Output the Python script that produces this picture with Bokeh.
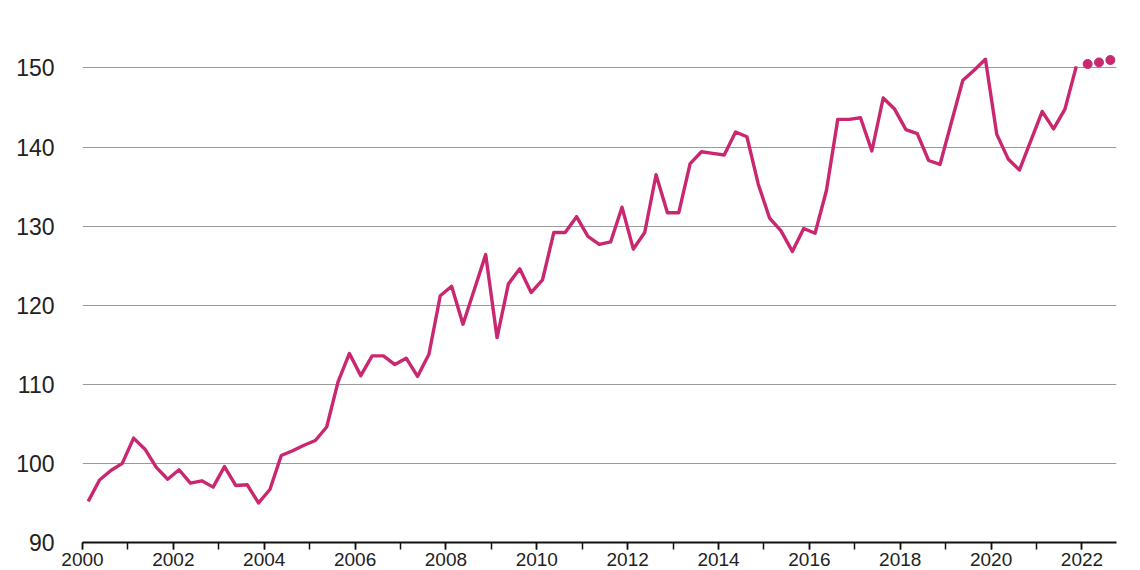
from bokeh.plotting import figure
from bokeh.models import Range1d, FixedTicker
from bokeh.embed import file_html
from bokeh.resources import INLINE

# Quarterly index values 2000Q1 .. 2021Q4
years = list(range(2000, 2022))
values = [
    95.2, 97.9, 99.1, 100.0,
    103.2, 101.8, 99.5, 98.0,
    99.2, 97.5, 97.8, 97.0,
    99.6, 97.2, 97.3, 95.0,
    96.7, 101.0, 101.6, 102.3,
    102.9, 104.6, 110.3, 113.9,
    111.1, 113.6, 113.6, 112.5,
    113.3, 111.0, 113.8, 121.2,
    122.4, 117.6, 122.0, 126.4,
    115.9, 122.7, 124.6, 121.6,
    123.2, 129.2, 129.2, 131.2,
    128.7, 127.7, 128.0, 132.4,
    127.1, 129.2, 136.5, 131.7,
    131.7, 137.9, 139.4, 139.2,
    139.0, 141.9, 141.3, 135.3,
    131.0, 129.4, 126.8, 129.7,
    129.1, 134.5, 143.5, 143.5,
    143.7, 139.5, 146.2, 144.8,
    142.2, 141.7, 138.3, 137.8,
    143.1, 148.4, 149.7, 151.1,
    141.6, 138.5, 137.1, 140.8,
    144.5, 142.3, 144.8, 150.2,
]
# Forecast dots 2022Q1 .. 2022Q3
forecast = [150.5, 150.7, 151.0]

y_ticks = [90, 100, 110, 120, 130, 140, 150]
x_tick_years = list(range(2000, 2023))
x_label_years = list(range(2000, 2023, 2))

x = [y + (q + 0.5) / 4 for y in years for q in range(4)]
xf = [2022 + (q + 0.5) / 4 for q in range(3)]

LINE = "#C9276F"
FONT = "Liberation Sans"

p = figure(width=1140, height=570, output_backend="svg", toolbar_location=None,
           x_range=Range1d(2000, 2022.76), y_range=Range1d(90, 156))
p.min_border_left = 82
p.min_border_right = 24
p.min_border_top = 20
p.min_border_bottom = 28
p.outline_line_color = None
p.background_fill_color = "white"
p.border_fill_color = "white"

p.xgrid.grid_line_color = None
p.ygrid.grid_line_color = "#9a9a9a"
p.ygrid.grid_line_width = 1.2
p.ygrid.ticker = FixedTicker(ticks=y_ticks[1:])

p.yaxis.ticker = FixedTicker(ticks=y_ticks)
p.yaxis.axis_line_color = None
p.yaxis.major_tick_line_color = None
p.yaxis.minor_tick_line_color = None
p.yaxis.major_label_text_font = FONT
p.yaxis.major_label_text_font_size = "23px"
p.yaxis.major_label_text_color = "#222222"
p.yaxis.major_label_standoff = 22

p.xaxis.ticker = FixedTicker(ticks=x_label_years, minor_ticks=x_tick_years)
p.xaxis.axis_line_color = "#111111"
p.xaxis.axis_line_width = 2
p.xaxis.major_tick_line_color = "#111111"
p.xaxis.major_tick_line_width = 1.5
p.xaxis.major_tick_out = 7
p.xaxis.major_tick_in = 0
p.xaxis.minor_tick_line_color = "#111111"
p.xaxis.minor_tick_line_width = 1.5
p.xaxis.minor_tick_out = 7
p.xaxis.minor_tick_in = 0
p.xaxis.major_label_text_font = FONT
p.xaxis.major_label_text_font_size = "19px"
p.xaxis.major_label_text_color = "#222222"
p.xaxis.major_label_standoff = 3

p.line(x, values, line_color=LINE, line_width=3.4, line_join="round")
p.scatter(xf, forecast, size=9, fill_color=LINE, line_color=LINE)

open("out.html", "w").write(file_html(p, INLINE))
